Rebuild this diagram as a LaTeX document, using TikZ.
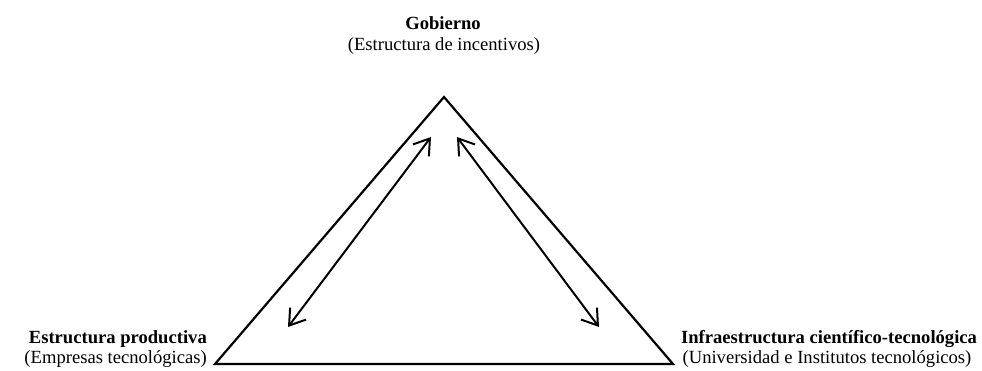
\documentclass[tikz,border=0pt]{standalone}
\usepackage{fontspec}
\setmainfont{Liberation Serif}
\usetikzlibrary{arrows.meta}
\tikzset{
  lbl/.style={inner sep=0pt,anchor=base,font=\fontsize{18.6}{21}\selectfont},
  lado/.style={line width=2.2pt,line join=miter},
  flecha/.style={line width=2pt,{Straight Barb[length=15pt,width=20pt]}-{Straight Barb[length=15pt,width=20pt]}}
}
\begin{document}
\begin{tikzpicture}[x=1pt,y=-1pt]
\useasboundingbox (0,0) rectangle (982,370);
\coordinate (gobierno) at (444,97);
\coordinate (empresas) at (215,364);
\coordinate (ciencia) at (673,364);
\draw[lado] (gobierno) -- (empresas) -- (ciencia) -- cycle;
% flechas de ida y vuelta
\coordinate (a1) at (431,137);
\coordinate (a2) at (288,327);
\coordinate (b1) at (457,137);
\coordinate (b2) at (599,327);
\draw[flecha] (a2) -- (a1);
\draw[flecha] (b1) -- (b2);
\node[lbl] (gob) at (443,29) {\textbf{Gobierno}};
\node[lbl] (gobsub) at (444,50) {(Estructura de incentivos)};
\node[lbl,anchor=base east] (prod) at (207,343) {\textbf{Estructura productiva}};
\node[lbl,anchor=base east] (prodsub) at (207,363) {(Empresas tecnológicas)};
\node[lbl] (infra) at (829,343) {\textbf{Infraestructura científico-tecnológica}};
\node[lbl] (infrasub) at (827,363) {(Universidad e Institutos tecnológicos)};
\end{tikzpicture}
\end{document}
